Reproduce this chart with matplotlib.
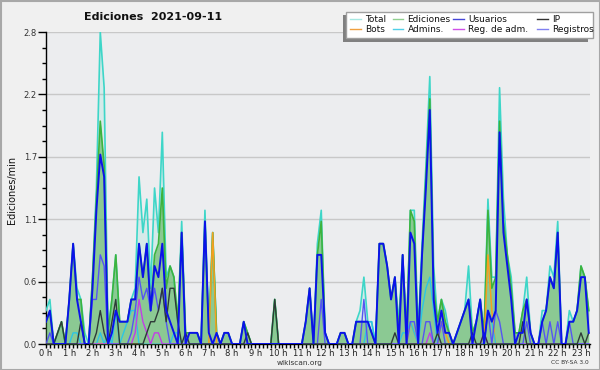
import matplotlib
matplotlib.use('Agg')
import matplotlib.pyplot as plt
import numpy as np
from matplotlib.ticker import FixedLocator
from matplotlib.patches import Rectangle
from matplotlib.lines import Line2D

# ---- data: edits per minute, one value per 10 minutes (rows = hours) ----
total = [
 0.3,0.4,0.0,0.1,0.2,0.0,
 0.4,0.9,0.5,0.4,0.1,0.0,
 0.6,1.4,2.8,2.3,0.1,0.4,
 0.8,0.2,0.2,0.2,0.4,0.5,
 1.5,1.0,1.3,0.5,1.4,1.0,
 1.9,0.6,0.7,0.6,0.2,1.1,
 0.1,0.1,0.1,0.1,0.0,1.2,
 0.1,1.0,0.1,0.0,0.1,0.1,
 0.0,0.0,0.0,0.2,0.1,0.0,
 0.0,0.0,0.0,0.0,0.0,0.4,
 0.0,0.0,0.0,0.0,0.0,0.0,
 0.0,0.2,0.5,0.0,0.9,1.2,
 0.1,0.0,0.0,0.0,0.1,0.1,
 0.0,0.0,0.2,0.3,0.6,0.2,
 0.2,0.0,0.9,0.9,0.7,0.4,
 0.6,0.2,0.8,0.1,1.2,1.2,
 0.1,0.9,1.6,2.4,0.7,0.2,
 0.4,0.3,0.1,0.0,0.1,0.2,
 0.3,0.7,0.1,0.2,0.4,0.1,
 1.3,0.6,0.6,2.3,1.3,0.8,
 0.6,0.1,0.1,0.3,0.6,0.1,
 0.0,0.0,0.3,0.3,0.7,0.6,
 1.1,0.0,0.0,0.3,0.2,0.3,
 0.7,0.6,0.3]

edits = [
 0.2,0.3,0.0,0.1,0.2,0.0,
 0.4,0.9,0.4,0.4,0.0,0.0,
 0.6,1.3,2.0,1.6,0.1,0.4,
 0.8,0.2,0.2,0.2,0.4,0.4,
 0.9,0.6,0.9,0.3,0.8,0.9,
 1.4,0.5,0.7,0.6,0.2,1.0,
 0.1,0.1,0.1,0.1,0.0,1.1,
 0.1,1.0,0.1,0.0,0.1,0.1,
 0.0,0.0,0.0,0.2,0.1,0.0,
 0.0,0.0,0.0,0.0,0.0,0.4,
 0.0,0.0,0.0,0.0,0.0,0.0,
 0.0,0.2,0.5,0.0,0.8,1.1,
 0.1,0.0,0.0,0.0,0.1,0.1,
 0.0,0.0,0.2,0.2,0.2,0.2,
 0.1,0.0,0.9,0.9,0.7,0.4,
 0.6,0.1,0.8,0.1,1.2,1.1,
 0.0,0.8,1.5,2.2,0.5,0.2,
 0.4,0.2,0.1,0.0,0.1,0.2,
 0.3,0.4,0.1,0.2,0.4,0.1,
 1.2,0.5,0.6,2.0,1.1,0.8,
 0.5,0.1,0.1,0.3,0.4,0.1,
 0.0,0.0,0.2,0.3,0.6,0.5,
 1.0,0.0,0.0,0.2,0.2,0.3,
 0.7,0.6,0.3]

users = [
 0.2,0.3,0.0,0.0,0.0,0.0,
 0.4,0.9,0.4,0.2,0.0,0.0,
 0.5,1.2,1.7,1.5,0.0,0.1,
 0.3,0.2,0.2,0.2,0.4,0.4,
 0.9,0.6,0.9,0.3,0.7,0.6,
 0.9,0.3,0.2,0.1,0.0,1.0,
 0.0,0.1,0.1,0.1,0.0,1.1,
 0.1,0.0,0.1,0.0,0.1,0.1,
 0.0,0.0,0.0,0.2,0.0,0.0,
 0.0,0.0,0.0,0.0,0.0,0.0,
 0.0,0.0,0.0,0.0,0.0,0.0,
 0.0,0.2,0.5,0.0,0.8,0.8,
 0.1,0.0,0.0,0.0,0.1,0.1,
 0.0,0.0,0.2,0.2,0.2,0.2,
 0.1,0.0,0.9,0.9,0.7,0.4,
 0.6,0.0,0.8,0.0,1.0,0.9,
 0.0,0.8,1.4,2.1,0.4,0.1,
 0.3,0.1,0.1,0.0,0.1,0.2,
 0.3,0.4,0.0,0.2,0.4,0.0,
 0.3,0.2,0.3,1.9,1.0,0.7,
 0.4,0.0,0.1,0.1,0.4,0.1,
 0.0,0.0,0.2,0.3,0.6,0.5,
 1.0,0.0,0.0,0.2,0.2,0.3,
 0.6,0.6,0.1]

ip = [
 0.0,0.0,0.0,0.1,0.2,0.0,
 0.0,0.0,0.0,0.2,0.0,0.0,
 0.0,0.1,0.3,0.1,0.0,0.2,
 0.4,0.0,0.0,0.0,0.0,0.0,
 0.0,0.0,0.1,0.2,0.2,0.3,
 0.5,0.2,0.5,0.5,0.2,0.0,
 0.1,0.0,0.0,0.0,0.0,0.0,
 0.0,0.0,0.0,0.0,0.0,0.0,
 0.0,0.0,0.0,0.0,0.1,0.0,
 0.0,0.0,0.0,0.0,0.0,0.4,
 0.0,0.0,0.0,0.0,0.0,0.0,
 0.0,0.0,0.0,0.0,0.0,0.0,
 0.0,0.0,0.0,0.0,0.0,0.0,
 0.0,0.0,0.0,0.0,0.0,0.0,
 0.0,0.0,0.0,0.0,0.0,0.0,
 0.1,0.0,0.0,0.0,0.0,0.0,
 0.0,0.0,0.0,0.0,0.0,0.1,
 0.0,0.0,0.0,0.0,0.0,0.0,
 0.0,0.0,0.1,0.0,0.0,0.1,
 0.0,0.0,0.0,0.0,0.0,0.0,
 0.0,0.0,0.0,0.2,0.0,0.0,
 0.0,0.0,0.0,0.0,0.0,0.0,
 0.0,0.0,0.0,0.0,0.0,0.0,
 0.1,0.0,0.1]

bots = [
 0,0,0,0,0,0,  0,0,0,0,0,0,  0,0,0,0,0,0,  0,0,0,0,0,0,
 0,0,0,0,0,0,  0,0,0,0,0,0,  0,0,0,0,0,0,  0,1.0,0,0,0,0,
 0,0,0,0,0,0,  0,0,0,0,0,0,  0,0,0,0,0,0,  0,0,0,0,0,0,
 0,0,0,0,0,0,  0,0,0,0,0,0,  0,0,0,0,0,0,  0,0,0,0,0.2,0.1,
 0,0,0,0,0,0,  0.2,0.1,0,0,0,0,  0,0,0,0,0,0,  0.8,0.3,0,0,0,0,
 0,0,0,0,0,0,  0,0,0,0,0,0,  0,0,0,0,0,0,  0,0,0]

admins = [
 0,0,0,0,0,0,  0,0.1,0.1,0,0,0,  0,0,0.1,0,0.1,0,  0.3,0,0.1,0.2,0.3,0.3,
 0,0,0,0,0,0,  0,0,0,0.1,0.1,0,  0,0,0,0,0,0,  0,0,0,0,0,0,
 0,0,0,0,0,0,  0,0,0,0,0,0,  0,0,0,0,0,0,  0,0,0,0,0,0,
 0,0,0,0,0,0,  0,0,0,0,0,0.2,  0.2,0,0,0,0,0,  0,0,0.1,0.1,0.2,0.1,
 0,0.3,0.5,0.6,0.3,0,  0,0,0,0,0,0,  0,0,0,0,0,0,  0.3,0.2,0,0,0,0,
 0,0,0,0,0,0,  0,0,0,0,0,0,  0,0,0,0,0,0,  0,0,0]

regadm = [
 0,0,0,0,0,0,  0,0,0,0,0,0,  0,0,0,0,0,0,  0,0,0,0,0,0.1,
 0.4,0.2,0.1,0,0.1,0.1,  0,0,0,0,0,0,  0,0,0,0,0,0,  0,0,0,0,0,0,
 0,0,0,0,0,0,  0,0,0,0,0,0,  0,0,0,0,0,0,  0,0,0,0,0,0,
 0,0,0,0,0,0,  0,0,0,0,0,0,  0,0,0,0,0,0,  0,0,0,0,0,0,
 0,0,0,0.1,0,0,  0,0,0,0,0,0,  0,0,0,0,0,0.1,  0,0,0,0,0,0,
 0,0,0,0,0,0,  0,0,0,0,0,0,  0,0,0,0,0,0,  0,0,0]

registros = [
 0,0.1,0,0,0,0,  0,0,0,0,0,0,  0.4,0.4,0.8,0.7,0,0,  0,0,0,0,0.1,0.3,
 0.6,0.4,0.5,0.3,0.5,0.3,  0.5,0.2,0,0,0,0,  0,0,0,0,0,0,  0,0,0,0,0,0,
 0,0,0,0,0,0,  0,0,0,0,0,0,  0,0,0,0,0,0,  0,0,0,0,0,0.4,
 0,0,0,0,0,0,  0,0,0,0,0.4,0,  0,0,0,0,0,0,  0,0,0,0,0.2,0.2,
 0,0,0.2,0.2,0,0,  0.2,0,0,0,0,0,  0,0,0,0,0,0,  0.3,0,0.3,0.2,0,0,
 0,0,0,0,0.2,0,  0,0,0.2,0,0.2,0,  0.2,0,0,0.2,0,0,  0,0,0]

hour_labels = [f"{h} h" for h in range(24)]
y_ticks = [0.0, 0.56, 1.12, 1.68, 2.24, 2.8]
y_labels = ["0.0", "0.6", "1.1", "1.7", "2.2", "2.8"]

W, H = 600, 370
fig = plt.figure(figsize=(W/100, H/100), dpi=100, facecolor='#f0f0f0')
ax = fig.add_axes([46/W, (H-344)/H, (590-46)/W, 312/H])
ax.set_facecolor('#ecedef')

x = np.arange(len(total)) / 6.0
ax.set_xlim(0, (590-46)/23.26)
ax.set_ylim(0, 2.8)

ax.fill_between(x, total, 0, color='#40d8c8', alpha=0.13, lw=0, zorder=2)
ax.fill_between(x, edits, 0, color='#5eb65e', alpha=0.62, lw=0, zorder=3)
ax.plot(x, total, color='#3ed6c8', lw=1.2, zorder=4)
ax.plot(x, edits, color='#3db33d', lw=1.2, zorder=5)
ax.plot(x, bots, color='#f5a020', lw=1.1, zorder=6)
ax.plot(x, admins, color='#2cc6e4', lw=1.0, zorder=6)
ax.plot(x, regadm, color='#c23ee6', lw=1.0, zorder=6)
ax.plot(x, registros, color='#5555f2', lw=1.0, zorder=7)
ax.plot(x, ip, color='#2e3a38', lw=1.0, zorder=8)
ax.plot(x, users, color='#0b12ea', lw=1.4, zorder=9)

ax.set_yticks(y_ticks)
ax.set_yticklabels(y_labels)
ax.yaxis.set_minor_locator(FixedLocator(np.arange(0, 2.81, 0.14)))
ax.set_xticks(range(24))
ax.set_xticklabels(hour_labels)
ax.xaxis.set_minor_locator(FixedLocator(np.arange(0, 23.4, 1/6)))
ax.tick_params(axis='y', which='major', length=6, width=1, labelsize=6, pad=0.5, labelcolor='#333333')
ax.tick_params(axis='y', which='minor', length=3, width=1)
ax.tick_params(axis='x', which='major', length=3, width=1, labelsize=6, pad=0.3, labelcolor='#222222')
ax.tick_params(axis='x', which='minor', length=3, width=1)
ax.yaxis.grid(True, color='#c8c8c8', lw=1)
ax.set_axisbelow(True)
for s in ['top', 'right']:
    ax.spines[s].set_visible(False)
for s in ['left', 'bottom']:
    ax.spines[s].set_color('black')
    ax.spines[s].set_linewidth(1)

# overlay in pixel coordinates for title, legend and footer
ov = fig.add_axes([0, 0, 1, 1], facecolor='none')
ov.set_xlim(0, W); ov.set_ylim(H, 0); ov.axis('off')
ov.add_patch(Rectangle((0.5, 0.5), W-1, H-1, fill=False, ec='#a8a8a8', lw=1.5))
ov.text(153, 16.5, 'Ediciones  2021-09-11', ha='center', va='center', fontsize=8, fontweight='bold', color='#111111')
ov.text(12, 190, 'Ediciones/min', rotation=90, ha='center', va='center', fontsize=7, color='#111111')
ov.text(300, 363, 'wikiscan.org', ha='center', va='center', fontsize=5.3, color='#333333')
ov.text(589, 363, 'CC BY-SA 3.0', ha='right', va='center', fontsize=4.2, color='#333333')

# legend box with shadow
ov.add_patch(Rectangle((343, 15), 245, 27, fc='#808080', ec='none', zorder=10))
ov.add_patch(Rectangle((346, 12), 247, 25.5, fc='white', ec='#a0a0a0', lw=1, zorder=11))
leg = [("Total", '#a6e8e2', 350, 19), ("Ediciones", '#90d090', 392.5, 19),
       ("Usuarios", '#4646d8', 453, 19), ("IP", '#333333', 537, 19),
       ("Bots", '#f0a040', 350, 29), ("Admins.", '#50d0e8', 392.5, 29),
       ("Reg. de adm.", '#d050e8', 453, 29), ("Registros", '#8080f0', 537, 29)]
for lab, col, lx, ly in leg:
    ov.add_line(Line2D([lx, lx+10.5], [ly, ly], color=col, lw=1, zorder=12))
    ov.text(lx+15, ly, lab, ha='left', va='center', fontsize=6.5, color='#111111', zorder=12)

fig.savefig('out.png', dpi=100, facecolor=fig.get_facecolor())
